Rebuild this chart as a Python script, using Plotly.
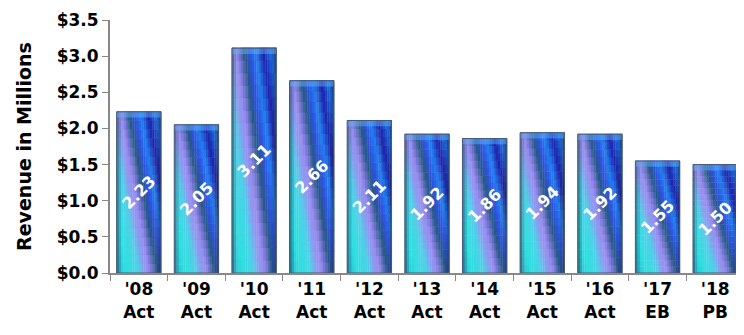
import plotly.graph_objects as go
from plotly.colors import sample_colorscale, unlabel_rgb, label_rgb

years = ["'08", "'09", "'10", "'11", "'12", "'13", "'14", "'15", "'16", "'17", "'18"]
kinds = ["Act", "Act", "Act", "Act", "Act", "Act", "Act", "Act", "Act", "EB", "PB"]
revenue = [2.23, 2.05, 3.11, 2.66, 2.11, 1.92, 1.86, 1.94, 1.92, 1.55, 1.50]
y_ticks = [0, 0.5, 1.0, 1.5, 2.0, 2.5, 3.0, 3.5]

categories = [f"<b>{y}<br>{k}</b>" for y, k in zip(years, kinds)]

FONT = "DejaVu Sans, Verdana, sans-serif"
BAR_W = 0.77
N_U, N_V = 20, 18
SLANT = 0.65

# diagonal stripe colours, phase q runs from -SLANT (bottom left) to 1 (top right)
STRIPES = [
    [0.000, '#2ab8cc'],
    [0.150, '#2ee0e0'],
    [0.300, '#50d0e8'],
    [0.380, '#8a9cf0'],
    [0.440, '#9a8cf0'],
    [0.500, '#6870c8'],
    [0.560, '#245a80'],
    [0.635, '#3050e0'],
    [0.715, '#2080f0'],
    [0.820, '#2020a8'],
    [0.925, '#1a70e8'],
    [1.000, '#2050b0'],
]


def shade(col, k):
    r, g, b = unlabel_rgb(col)
    return label_rgb((r * (1 - k) + 26 * k, g * (1 - k) + 42 * k, b * (1 - k) + 80 * k))


fig = go.Figure()

# gradient body: a grid of thin overlaid bar pieces
for i in range(N_U):
    u = (i + 0.5) / N_U
    edge = 0.45 if i in (0, N_U - 1) else (0.2 if i in (1, N_U - 2) else 0)
    for j in range(N_V):
        v = (j + 0.5) / N_V
        q = u - SLANT * (1 - v)
        col = sample_colorscale(STRIPES, [(q + SLANT) / (1 + SLANT)])[0]
        fig.add_trace(go.Bar(
            x=categories,
            y=[r / N_V * 1.06 for r in revenue],
            base=[r * j / N_V for r in revenue],
            width=BAR_W / N_U * 1.15,
            offset=-BAR_W / 2 + i * BAR_W / N_U,
            marker=dict(color=shade(col, edge), line=dict(width=0)),
            hoverinfo='skip', showlegend=False,
        ))

# bevel cap
fig.add_trace(go.Bar(
    x=categories, y=[0.08] * len(revenue), base=[r - 0.08 for r in revenue],
    width=BAR_W, marker=dict(color='rgba(100,185,250,0.45)', line=dict(width=0)),
    hoverinfo='skip', showlegend=False,
))

# outline + labels
fig.add_trace(go.Bar(
    x=categories, y=revenue, width=BAR_W,
    marker=dict(color='rgba(0,0,0,0)', line=dict(color='#4a5878', width=1)),
    text=[f"<b>{r:.2f}</b>" for r in revenue],
    textposition='inside', insidetextanchor='middle', textangle=-45,
    constraintext='none',
    textfont=dict(family=FONT, size=16, color='white'),
    showlegend=False,
))

# page body adds an 8px margin, so the figure is 8px smaller than the window
fig.update_layout(
    width=736, height=327,
    margin=dict(l=102, r=0, t=12, b=62),
    barmode='overlay',
    plot_bgcolor='white', paper_bgcolor='white',
    font=dict(family=FONT, color='black'),
)
fig.update_xaxes(
    type='category', range=[-0.5, len(categories) - 0.5],
    tickson='boundaries', ticks='outside', ticklen=6,
    tickcolor='#888888', showline=True, linecolor='#888888', linewidth=2,
    showgrid=False, automargin=False,
    tickfont=dict(family=FONT, size=17, color='black'),
)
fig.update_yaxes(
    range=[0, 3.5], tickvals=y_ticks,
    ticktext=[f"<b>${t:.1f}</b>" for t in y_ticks],
    ticks='outside', ticklen=6, tickcolor='#888888',
    showline=True, linecolor='#888888', linewidth=2, showgrid=False,
    zeroline=False, automargin=False,
    tickfont=dict(family=FONT, size=17, color='black'),
    title=dict(text='<b>Revenue in Millions</b>', standoff=20,
               font=dict(family=FONT, size=19, color='black')),
)

fig.write_html("out.html")
